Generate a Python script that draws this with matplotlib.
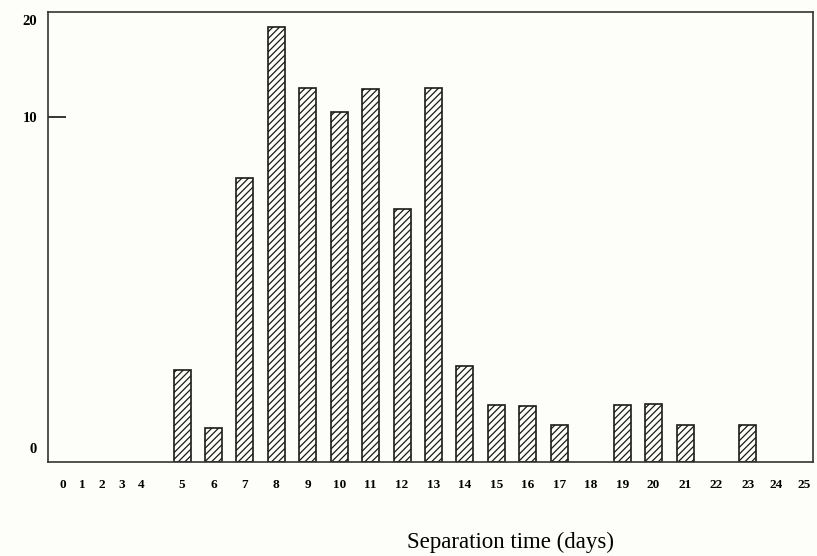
import numpy as np
import matplotlib
matplotlib.use("Agg")
import matplotlib.pyplot as plt
from matplotlib.transforms import ScaledTranslation

# separation time histogram
days = [5, 6, 7, 8, 9, 10, 11, 12, 13, 14, 15, 16, 17, 19, 20, 21, 23]
counts = [0.9, 0.27, 6.2, 19.6, 12.5, 10.4, 12.4, 4.8, 12.5, 0.95,
          0.49, 0.48, 0.29, 0.49, 0.50, 0.29, 0.29]
x_ticks = list(range(0, 26))
y_ticks = [0, 10, 20]

# the original x axis squeezes days 0-4, and the y axis is log(1 + n)
x_from = [-1, 0, 4, 4.6, 23, 25, 26]
x_to = [0.575, 1.2, 3.7, 4.6, 23, 24.8, 25.8]


def x_fwd(d):
    return np.interp(d, x_from, x_to)


def x_inv(u):
    return np.interp(u, x_to, x_from)


def y_fwd(v):
    return np.log10(1 + np.clip(v, -0.99, None))


def y_inv(v):
    return 10 ** v - 1


plt.rcParams['font.family'] = ['Liberation Serif', 'DejaVu Serif']
plt.rcParams['hatch.linewidth'] = 0.9
plt.rcParams['hatch.color'] = '#1a1a1a'

fig = plt.figure(figsize=(8.17, 5.56), dpi=100, facecolor='#fdfdfa')
ax = fig.add_axes([0.0588, 0.169, 0.9363, 0.809])
ax.set_facecolor('#fdfdfa')

ax.set_xscale('function', functions=(x_fwd, x_inv))
ax.set_yscale('function', functions=(y_fwd, y_inv))

ax.bar(days, counts, width=0.54, facecolor='none', edgecolor='#1a1a1a',
       linewidth=1.2, hatch='/////')

ax.set_xlim(-0.74, 25.27)
ax.set_ylim(0, 21.8)

for s in ax.spines.values():
    s.set_linewidth(1.2)
    s.set_color('#333333')

ax.set_xticks(x_ticks)
ax.set_xticklabels([str(t) for t in x_ticks], fontsize=9.5, fontweight='bold')
ax.tick_params(axis='x', length=0, pad=12)

ax.set_yticks(y_ticks)
ax.set_yticklabels([str(t) for t in y_ticks], fontsize=10.5, fontweight='bold')
ax.tick_params(axis='y', direction='in', length=13, width=1.1, pad=8)
ylines = ax.yaxis.get_ticklines()
# only the 10 tick carries a mark
for i, ln in enumerate(ylines):
    if i // 2 != 1:
        ln.set_visible(False)
# the 0 label sits a bit above the baseline
lbl0 = ax.get_yticklabels()[0]
lbl0.set_transform(lbl0.get_transform() + ScaledTranslation(0, 0.14, fig.dpi_scale_trans))
lbl20 = ax.get_yticklabels()[2]
lbl20.set_transform(lbl20.get_transform() + ScaledTranslation(0, 0.04, fig.dpi_scale_trans))

ax.set_xlabel('Separation time (days)', fontsize=16.5)
ax.xaxis.set_label_coords(0.604, -0.155)

fig.savefig('out.png', dpi=100, facecolor=fig.get_facecolor())
